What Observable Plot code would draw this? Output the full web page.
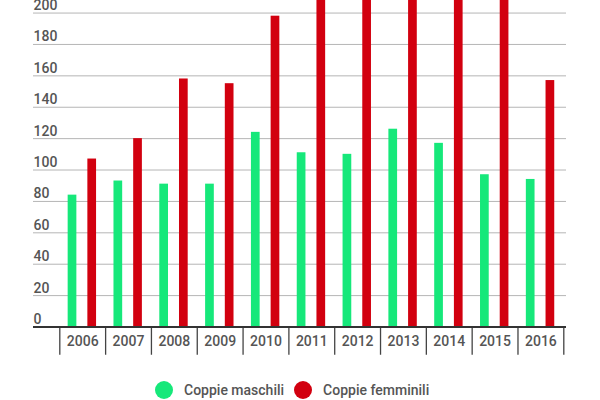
<!DOCTYPE html>
<html>
<head>
<meta charset="utf-8">
<script src="https://cdn.jsdelivr.net/npm/d3@7"></script>
<script src="https://cdn.jsdelivr.net/npm/@observablehq/plot@0.6"></script>
<style>
  html, body { margin: 0; padding: 0; background: #fff; }
  body { width: 600px; height: 400px; overflow: hidden; font-family: Roboto, sans-serif; }
  #legend { display: flex; align-items: center; margin-top: 15px; padding-left: 155px; font-size: 14px; font-weight: 500; color: #555; }
  .item { display: flex; align-items: center; margin-right: 10px; }
  .dot { width: 18px; height: 18px; border-radius: 50%; margin-right: 11px; }
</style>
</head>
<body>
<div id="chart"></div>
<div id="legend"></div>
<script>
const years = ["2006","2007","2008","2009","2010","2011","2012","2013","2014","2015","2016"];
const series = ["Coppie maschili", "Coppie femminili"];
const maschili  = [84, 93, 91, 91, 124, 111, 110, 126, 117, 97, 94];
const femminili = [107, 120, 158, 155, 198, 230, 245, 240, 235, 250, 157];
const yTicks = [0, 20, 40, 60, 80, 100, 120, 140, 160, 180, 200];
const colors = ["#16e87a", "#d2000f"];

const data = years.flatMap((y, i) => [
  {year: y, series: series[0], value: maschili[i]},
  {year: y, series: series[1], value: femminili[i]}
]);

const W = 600, H = 366, mL = 33, mR = 34, mT = 0, mB = 39.5;
const xRange = [59.3, 563.3];
const bandStep = (xRange[1] - xRange[0]) / years.length;
const inset = (bandStep - 8.7) / 2;

const chart = Plot.plot({
  width: W,
  height: H,
  marginLeft: mL,
  marginRight: mR,
  marginTop: mT,
  marginBottom: mB,
  style: {fontFamily: "Roboto, sans-serif", fontSize: "14px", fontWeight: 500, color: "#555", background: "#fff"},
  x: {type: "band", domain: years, padding: 0, round: false, range: xRange, axis: null, label: null},
  y: {domain: [0, 208], axis: null},
  color: {domain: series, range: colors},
  marks: [
    Plot.ruleY(yTicks.slice(1), {y: d => d, stroke: "#b5b5b5", strokeWidth: 1}),
    Plot.text(yTicks, {y: d => d, text: d => String(d), frameAnchor: "left", textAnchor: "start", lineAnchor: "bottom", dy: -3, fill: "#555", fontSize: 14, fontWeight: 500}),
    Plot.barY(data.filter(d => d.series === series[0]), {x: "year", y: "value", fill: "series", dx: -10.2, insetLeft: inset, insetRight: inset, clip: true}),
    Plot.barY(data.filter(d => d.series === series[1]), {x: "year", y: "value", fill: "series", dx: 9.5, insetLeft: inset, insetRight: inset, clip: true}),
    Plot.ruleX(years, {x: d => d, dx: -bandStep / 2, y1: 0, y2: -18, stroke: "#444", strokeWidth: 1.3}),
    Plot.ruleX([years[years.length - 1]], {x: d => d, dx: bandStep / 2, y1: 0, y2: -18, stroke: "#444", strokeWidth: 1.3}),
    Plot.ruleY([0], {stroke: "#333", strokeWidth: 2.2}),
    Plot.axisX({tickSize: 0, tickPadding: 9, fontSize: 14, fontWeight: 500, fill: "#555", label: null})
  ]
});
document.getElementById("chart").appendChild(chart);

const legend = document.getElementById("legend");
series.forEach((s, i) => {
  const item = document.createElement("div");
  item.className = "item";
  const dot = document.createElement("span");
  dot.className = "dot";
  dot.style.background = colors[i];
  const label = document.createElement("span");
  label.textContent = s;
  item.appendChild(dot);
  item.appendChild(label);
  legend.appendChild(item);
});
</script>
</body>
</html>
